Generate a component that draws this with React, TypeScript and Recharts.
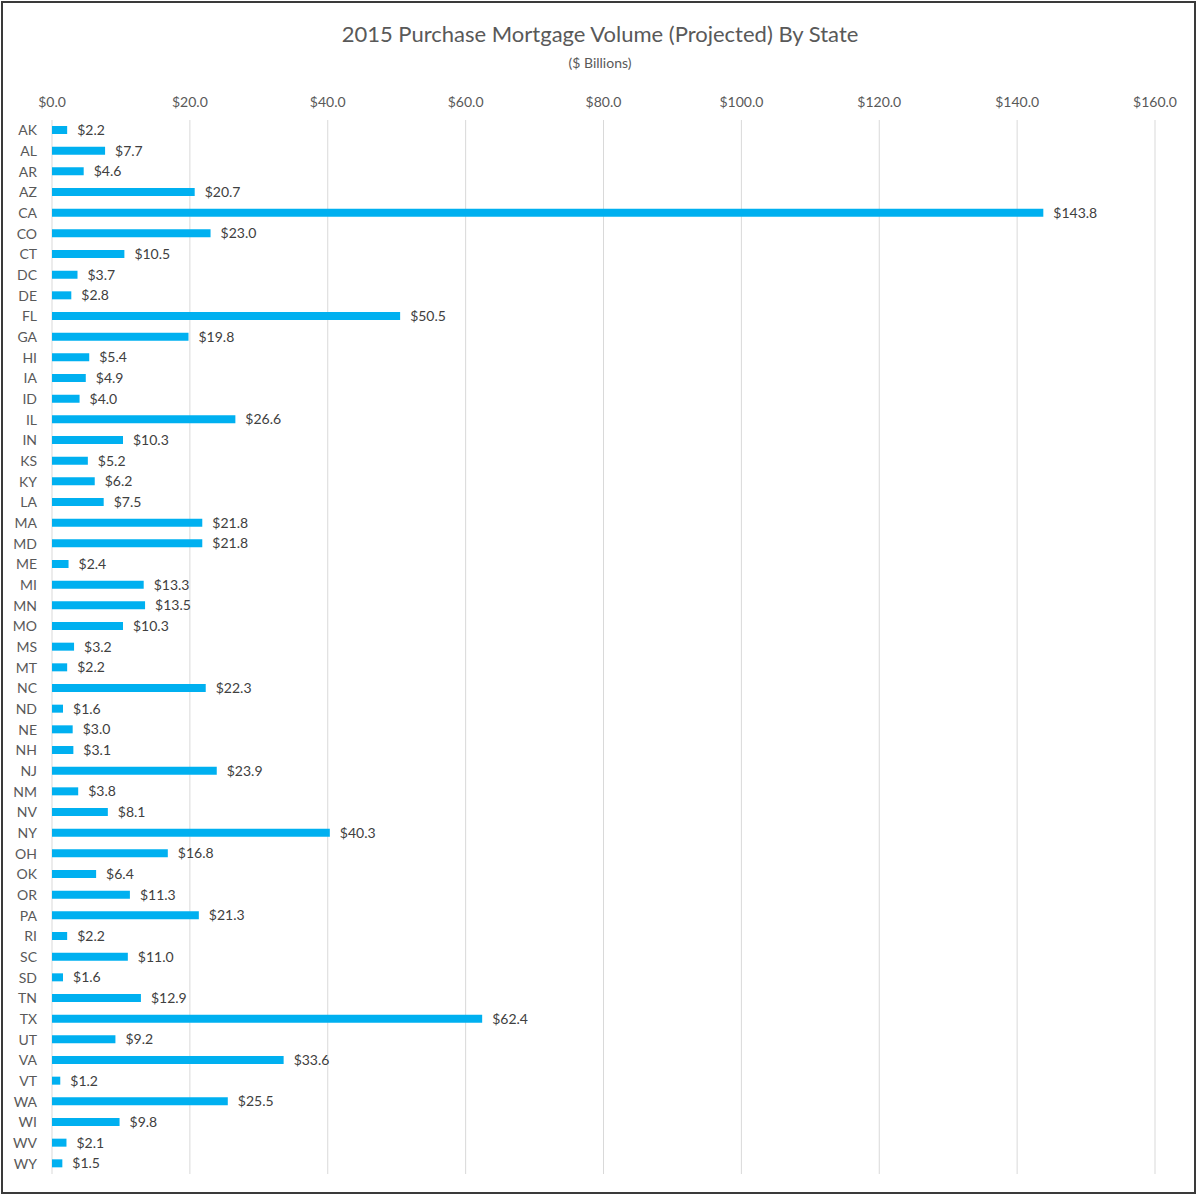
import { BarChart, Bar, XAxis, YAxis, CartesianGrid, LabelList } from 'recharts'

const states = [
  'AK', 'AL', 'AR', 'AZ', 'CA', 'CO', 'CT', 'DC', 'DE', 'FL', 'GA', 'HI', 'IA', 'ID', 'IL', 'IN', 'KS',
  'KY', 'LA', 'MA', 'MD', 'ME', 'MI', 'MN', 'MO', 'MS', 'MT', 'NC', 'ND', 'NE', 'NH', 'NJ', 'NM', 'NV',
  'NY', 'OH', 'OK', 'OR', 'PA', 'RI', 'SC', 'SD', 'TN', 'TX', 'UT', 'VA', 'VT', 'WA', 'WI', 'WV', 'WY',
]

const volumes = [
  2.2, 7.7, 4.6, 20.7, 143.8, 23.0, 10.5, 3.7, 2.8, 50.5, 19.8, 5.4, 4.9, 4.0, 26.6, 10.3, 5.2,
  6.2, 7.5, 21.8, 21.8, 2.4, 13.3, 13.5, 10.3, 3.2, 2.2, 22.3, 1.6, 3.0, 3.1, 23.9, 3.8, 8.1,
  40.3, 16.8, 6.4, 11.3, 21.3, 2.2, 11.0, 1.6, 12.9, 62.4, 9.2, 33.6, 1.2, 25.5, 9.8, 2.1, 1.5,
]

const xTicks = [0, 20, 40, 60, 80, 100, 120, 140, 160]

const data = states.map((state, i) => ({ state, value: volumes[i] }))

const FONT = 'Lato, "Open Sans", sans-serif'
const money = (v: any) => `$${Number(v).toFixed(1)}`

export default function App() {
  return (
    <div style={{ position: 'relative', width: 1200, height: 1197, background: '#fff', fontFamily: FONT }}>
      <style>{`body{margin:0}`}</style>
      <div
        style={{
          position: 'absolute',
          left: 1,
          top: 1,
          width: 1195,
          height: 1193,
          border: '2px solid #3a3a3a',
          boxSizing: 'border-box',
          pointerEvents: 'none',
          zIndex: 2,
        }}
      />
      <div style={{ position: 'absolute', top: 20, left: 0, width: 1200, textAlign: 'center', fontSize: 22, color: '#595959' }}>
        2015 Purchase Mortgage Volume (Projected) By State
      </div>
      <div style={{ position: 'absolute', top: 54, left: 0, width: 1200, textAlign: 'center', fontSize: 14, color: '#595959' }}>
        ($ Billions)
      </div>
      <BarChart
        width={1200}
        height={1197}
        data={data}
        layout="vertical"
        margin={{ top: 90, right: 45, bottom: 23, left: 0 }}
        barCategoryGap={6}
      >
        <CartesianGrid horizontal={false} stroke="#d9d9d9" />
        <XAxis
          type="number"
          orientation="top"
          domain={[0, 160]}
          ticks={xTicks}
          tickFormatter={money}
          axisLine={false}
          tickLine={false}
          tickMargin={7}
          tick={{ fill: '#595959', fontSize: 14, fontFamily: FONT }}
          interval={0}
        />
        <YAxis
          type="category"
          dataKey="state"
          width={52}
          axisLine={false}
          tickLine={false}
          tickMargin={9}
          interval={0}
          tick={{ fill: '#595959', fontSize: 14, fontFamily: FONT }}
        />
        <Bar dataKey="value" fill="#00b0f0" barSize={8} isAnimationActive={false}>
          <LabelList
            dataKey="value"
            position="right"
            offset={10}
            formatter={money}
            style={{ fill: '#404040', fontSize: 14, fontFamily: FONT }}
          />
        </Bar>
      </BarChart>
    </div>
  )
}
